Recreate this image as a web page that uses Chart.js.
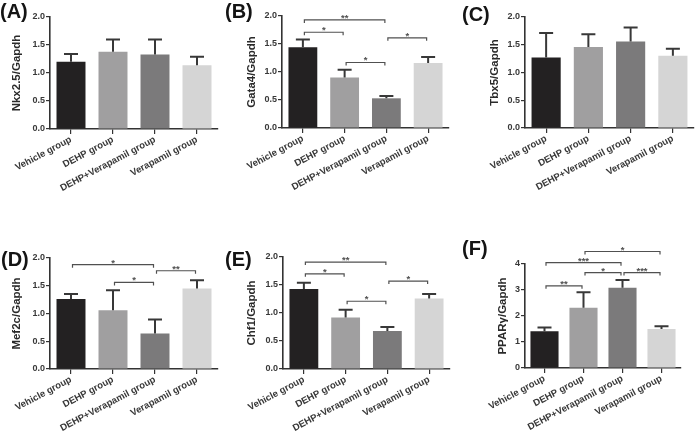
<!DOCTYPE html>
<html>
<head>
<meta charset="utf-8">
<script src="https://cdn.jsdelivr.net/npm/chart.js@4.4.0/dist/chart.umd.min.js"></script>
<style>
  body { margin: 0; background: #fff; width: 695px; height: 440px; position: relative; overflow: hidden; font-family: "Liberation Sans", Arial, sans-serif; }
  canvas { position: absolute; }
  .lbl { position: absolute; font-weight: bold; font-size: 20px; line-height: 1; color: #141414; z-index: 2; }
</style>
</head>
<body>
<div class="lbl" style="left:0px;top:1px">(A)</div>
<div class="lbl" style="left:225px;top:1px">(B)</div>
<div class="lbl" style="left:462px;top:4px">(C)</div>
<div class="lbl" style="left:1px;top:249px">(D)</div>
<div class="lbl" style="left:225px;top:249px">(E)</div>
<div class="lbl" style="left:462px;top:238px">(F)</div>
<canvas id="cA"></canvas>
<canvas id="cB"></canvas>
<canvas id="cC"></canvas>
<canvas id="cD"></canvas>
<canvas id="cE"></canvas>
<canvas id="cF"></canvas>
<script>
const groups = ['Vehicle group', 'DEHP group', 'DEHP+Verapamil group', 'Verapamil group'];
const barColors = ['#232122', '#a09fa0', '#7b7a7b', '#d5d5d5'];

// means and SEM
const nkx25 = [1.20, 1.38, 1.33, 1.14];
const nkx25Sem = [0.14, 0.22, 0.27, 0.15];
const gata4 = [1.44, 0.90, 0.53, 1.16];
const gata4Sem = [0.14, 0.14, 0.04, 0.11];
const tbx5 = [1.27, 1.46, 1.56, 1.30];
const tbx5Sem = [0.44, 0.23, 0.25, 0.13];
const mef2c = [1.26, 1.06, 0.64, 1.45];
const mef2cSem = [0.09, 0.36, 0.25, 0.15];
const chf1 = [1.43, 0.92, 0.68, 1.26];
const chf1Sem = [0.11, 0.14, 0.07, 0.08];
const ppary = [1.41, 2.32, 3.09, 1.50];
const pparySem = [0.15, 0.59, 0.29, 0.11];

// significance brackets: [from group, to group, height, stars]
const gata4Sig = [[0, 1, 1.71, '*'], [0, 2, 1.93, '**'], [1, 2, 1.17, '*'], [2, 3, 1.61, '*']];
const mef2cSig = [[0, 2, 1.88, '*'], [1, 2, 1.56, '*'], [2, 3, 1.77, '**']];
const chf1Sig = [[0, 2, 1.91, '**'], [0, 1, 1.70, '*'], [1, 2, 1.21, '*'], [2, 3, 1.57, '*']];
const pparySig = [[0, 1, 3.16, '**'], [0, 2, 4.05, '***'], [1, 2, 3.67, '*'], [2, 3, 3.67, '***'], [1, 3, 4.48, '*']];

const FONT = '"Liberation Sans", Arial, sans-serif';

const annot = {
  id: 'annot',
  afterDatasetsDraw(chart, args, opts) {
    const ctx = chart.ctx, y = chart.scales.y;
    const meta = chart.getDatasetMeta(0);
    const vals = chart.data.datasets[0].data;
    ctx.save();
    ctx.strokeStyle = '#383838';
    ctx.lineWidth = 2;
    meta.data.forEach((bar, i) => {
      const top = y.getPixelForValue(vals[i] + opts.sem[i]);
      ctx.beginPath();
      ctx.moveTo(bar.x, bar.y);
      ctx.lineTo(bar.x, top);
      ctx.moveTo(bar.x - 7, top);
      ctx.lineTo(bar.x + 7, top);
      ctx.stroke();
    });
    ctx.lineWidth = 1.2;
    ctx.strokeStyle = '#505050';
    ctx.fillStyle = '#505050';
    ctx.font = 'bold 9.5px ' + FONT;
    ctx.textAlign = 'center';
    ctx.textBaseline = 'alphabetic';
    (opts.sig || []).forEach(([a, b, v, stars]) => {
      const x1 = meta.data[a].x + 1.5, x2 = meta.data[b].x - 1.5;
      const yy = y.getPixelForValue(v);
      ctx.beginPath();
      ctx.moveTo(x1, yy + 3);
      ctx.lineTo(x1, yy);
      ctx.lineTo(x2, yy);
      ctx.lineTo(x2, yy + 3);
      ctx.stroke();
      ctx.fillText(stars, (x1 + x2) / 2, yy + 1);
    });
    ctx.restore();
  }
};

function panel(id, box, area, titleX, title, means, sems, sig, yMax, yStep, barPct) {
  const cv = document.getElementById(id);
  cv.width = box.w;
  cv.height = box.h;
  cv.style.left = box.x + 'px';
  cv.style.top = box.y + 'px';
  new Chart(cv, {
    type: 'bar',
    data: {
      labels: groups,
      datasets: [{
        data: means,
        backgroundColor: barColors,
        borderWidth: 0,
        categoryPercentage: 1,
        barPercentage: barPct
      }]
    },
    options: {
      responsive: false,
      animation: false,
      events: [],
      layout: { padding: { left: 0, top: area.t - box.y, right: box.x + box.w - area.r, bottom: 0 } },
      plugins: {
        legend: { display: false },
        tooltip: { enabled: false },
        annot: { sem: sems, sig: sig }
      },
      scales: {
        x: {
          afterFit: s => { s.height = box.y + box.h - area.b; },
          grid: { offset: false, drawOnChartArea: false, drawTicks: true, tickLength: 5, color: '#333', lineWidth: 1.2 },
          border: { display: true, color: '#333', width: 1.6 },
          ticks: {
            autoSkip: false, minRotation: 28, maxRotation: 28, padding: 0,
            color: '#383838', font: { family: FONT, size: 9.5, weight: 'bold' }
          }
        },
        y: {
          min: 0, max: yMax,
          afterFit: s => { s.width = area.l - box.x; },
          grid: { drawOnChartArea: false, drawTicks: true, tickLength: 4, color: '#333', lineWidth: 1.2 },
          border: { display: true, color: '#333', width: 1.6 },
          ticks: {
            stepSize: yStep, padding: 1,
            color: '#383838', font: { family: FONT, size: 9, weight: 'bold' },
            callback: v => yStep < 1 ? v.toFixed(1) : String(v)
          },
          title: {
            display: true, text: title, color: '#2a2a2a',
            font: { family: FONT, size: 11.5, weight: 'bold' },
            padding: { top: titleX - box.x - 6.9, bottom: 0 }
          }
        }
      }
    },
    plugins: [annot]
  });
}

panel('cA', { x: 0, y: 0, w: 232, h: 220 }, { l: 50, r: 218, t: 17, b: 129 }, 17,
  'Nkx2.5/Gapdh', nkx25, nkx25Sem, [], 2, 0.5, 0.69);
panel('cB', { x: 232, y: 0, w: 232, h: 220 }, { l: 282, r: 449, t: 16, b: 128 }, 252,
  'Gata4/Gapdh', gata4, gata4Sem, gata4Sig, 2, 0.5, 0.69);
panel('cC', { x: 464, y: 0, w: 231, h: 220 }, { l: 525, r: 694, t: 17, b: 128 }, 495,
  'Tbx5/Gapdh', tbx5, tbx5Sem, [], 2, 0.5, 0.69);
panel('cD', { x: 0, y: 220, w: 232, h: 220 }, { l: 50, r: 218, t: 258, b: 369 }, 16.5,
  'Mef2c/Gapdh', mef2c, mef2cSem, mef2cSig, 2, 0.5, 0.69);
panel('cE', { x: 232, y: 220, w: 232, h: 220 }, { l: 283, r: 450, t: 257, b: 369 }, 252,
  'Chf1/Gapdh', chf1, chf1Sem, chf1Sig, 2, 0.5, 0.69);
panel('cF', { x: 464, y: 220, w: 231, h: 220 }, { l: 525, r: 681, t: 264, b: 368 }, 503,
  'PPARγ/Gapdh', ppary, pparySem, pparySig, 4, 1, 0.72);
</script>
</body>
</html>
